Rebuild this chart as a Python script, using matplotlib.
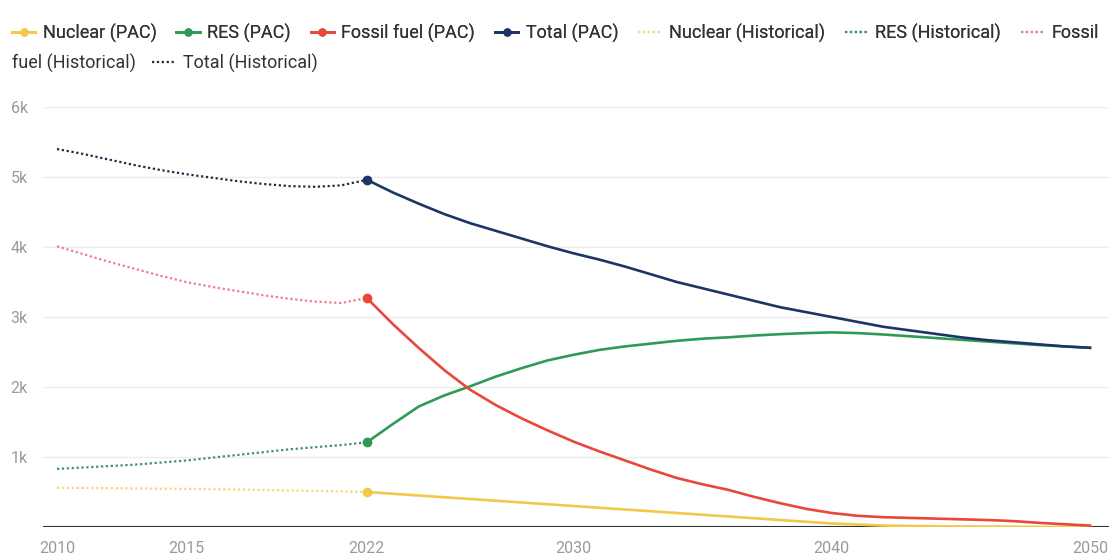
import matplotlib
matplotlib.use("Agg")
import matplotlib.pyplot as plt
from matplotlib.lines import Line2D

plt.rcParams['font.family'] = ['Roboto', 'DejaVu Sans']

# Historical data (2010-2022)
hist_years = [2010, 2011, 2012, 2013, 2014, 2015, 2016, 2017, 2018, 2019, 2020, 2021, 2022]
nuclear_hist = [560, 558, 555, 552, 548, 545, 540, 535, 530, 522, 515, 508, 500]
res_hist = [830, 850, 870, 890, 920, 950, 990, 1030, 1070, 1110, 1140, 1170, 1210]
fossil_hist = [4010, 3900, 3790, 3690, 3590, 3500, 3430, 3370, 3310, 3260, 3220, 3200, 3270]
total_hist = [5400, 5330, 5250, 5170, 5100, 5040, 4990, 4940, 4900, 4870, 4860, 4880, 4960]

# PAC scenario (2022-2050)
pac_years = list(range(2022, 2051))
nuclear_pac = [500, 475, 450, 425, 400, 375, 350, 325, 300, 275, 250, 225, 200, 175, 150,
               125, 100, 75, 50, 35, 20, 15, 10, 7, 5, 3, 0, 0, 0]
res_pac = [1210, 1470, 1720, 1880, 2010, 2150, 2270, 2380, 2460, 2530, 2580, 2620, 2660, 2690,
           2710, 2735, 2755, 2770, 2780, 2770, 2750, 2725, 2700, 2675, 2650, 2625, 2600, 2580, 2560]
fossil_pac = [3270, 2900, 2560, 2240, 1960, 1740, 1550, 1380, 1220, 1080, 950, 820, 700, 610,
              530, 430, 340, 260, 200, 160, 140, 130, 120, 110, 100, 85, 60, 40, 20]
total_pac = [4960, 4780, 4620, 4470, 4340, 4230, 4120, 4010, 3910, 3820, 3720, 3610, 3500, 3410,
             3320, 3230, 3140, 3070, 3000, 2930, 2860, 2810, 2760, 2710, 2670, 2640, 2610, 2580, 2560]

x_ticks = [2010, 2015, 2022, 2030, 2040, 2050]
y_ticks = [1000, 2000, 3000, 4000, 5000, 6000]
y_labels = ["1k", "2k", "3k", "4k", "5k", "6k"]

c_nuc = "#f2c84b"
c_res = "#2f9a55"
c_fos = "#e8473b"
c_tot = "#1d3566"
c_nuc_h = "#f3d77a"
c_res_h = "#3f8f6a"
c_fos_h = "#ef7b86"
c_tot_h = "#1e2a44"

fig = plt.figure(figsize=(11.18, 5.56), dpi=100)
ax = fig.add_axes([43/1118, 29/556, 1066/1118, 420/556])

for yt in y_ticks:
    ax.axhline(yt, color="#ececec", lw=1, zorder=0)
ax.axhline(0, color="#333333", lw=1.5, zorder=1)

dot = (0, (1, 1.2))
lw = 1.9
ax.plot(hist_years, nuclear_hist, color=c_nuc_h, lw=1.6, ls=dot, zorder=2)
ax.plot(hist_years, res_hist, color=c_res_h, lw=1.6, ls=dot, zorder=2)
ax.plot(hist_years, fossil_hist, color=c_fos_h, lw=1.6, ls=dot, zorder=2)
ax.plot(hist_years, total_hist, color=c_tot_h, lw=1.6, ls=dot, zorder=2)

ax.plot(pac_years, nuclear_pac, color=c_nuc, lw=lw, zorder=3)
ax.plot(pac_years, res_pac, color=c_res, lw=lw, zorder=3)
ax.plot(pac_years, fossil_pac, color=c_fos, lw=lw, zorder=3)
ax.plot(pac_years, total_pac, color=c_tot, lw=lw, zorder=3)

for ys, c in [(nuclear_pac, c_nuc), (res_pac, c_res), (fossil_pac, c_fos), (total_pac, c_tot)]:
    ax.plot([pac_years[0]], [ys[0]], marker="o", ms=6, color=c, zorder=4, mec=c)

ax.set_xlim(2010 - 14/25.8, 2050 + 19/25.8)
ax.set_ylim(0, 6000)
ax.set_xticks(x_ticks)
ax.set_xticklabels([str(x) for x in x_ticks])
ax.set_yticks(y_ticks)
ax.set_yticklabels(y_labels)
ax.tick_params(axis="both", length=0, colors="#9a9a9a", labelsize=11.5)
ax.tick_params(axis="y", pad=11)
ax.tick_params(axis="x", pad=10)
for s in ax.spines.values():
    s.set_visible(False)

def h(c, solid, marker=None):
    return Line2D([0], [0], color=c, lw=2 if solid else 1.6,
                  ls="-" if solid else dot, marker=marker, ms=5)

row1 = [
    (h(c_nuc, True, "o"), "Nuclear (PAC)"),
    (h(c_res, True, "o"), "RES (PAC)"),
    (h(c_fos, True, "o"), "Fossil fuel (PAC)"),
    (h(c_tot, True, "o"), "Total (PAC)"),
    (h(c_nuc_h, False), "Nuclear (Historical)"),
    (h(c_res_h, False), "RES (Historical)"),
    (h(c_fos_h, False), "Fossil"),
]
row2 = [
    (h(c_tot_h, False), "Total (Historical)"),
]
fs = 13
common = dict(frameon=False, fontsize=fs, handlelength=1.3, handletextpad=0.4,
              columnspacing=1.1, labelcolor="#333333", borderaxespad=0, borderpad=0)
leg1 = fig.legend([a for a, b in row1], [b for a, b in row1], ncol=7, loc="center left",
                  bbox_to_anchor=(12/1118, 1 - 33/556), **common)
leg2 = fig.legend([a for a, b in row2], [b for a, b in row2], ncol=1, loc="center left",
                  bbox_to_anchor=(152/1118, 1 - 63/556), **common)
fig.add_artist(leg1)
fig.text(12/1118, 1 - 63/556, "fuel (Historical)", fontsize=fs, color="#333333",
         va="center", ha="left")

fig.savefig("out.png", dpi=100)
